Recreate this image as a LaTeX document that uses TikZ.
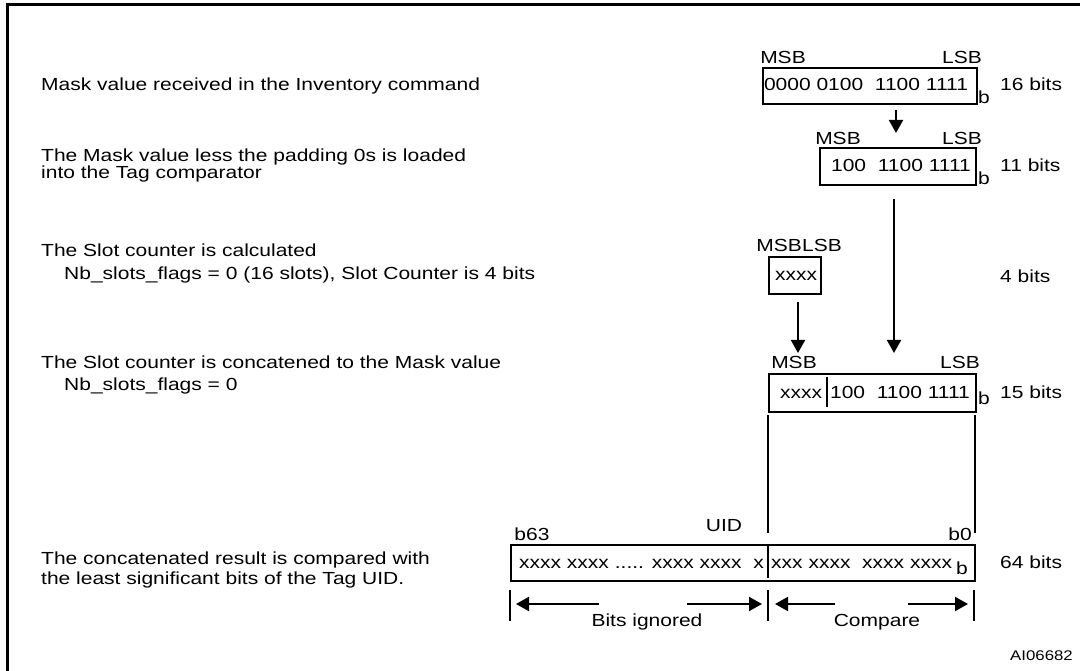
\documentclass[tikz,border=0pt]{standalone}
\usepackage{fontspec}
\setmainfont{Liberation Sans}[FakeStretch=1.2]
\usetikzlibrary{arrows.meta}
\tikzset{
 txt/.style={anchor=base west, inner sep=0pt, font=\fontsize{17.5}{20}\selectfont},
 lbl/.style={anchor=base, inner sep=0pt, font=\fontsize{17.5}{20}\selectfont},
 bitbox/.style={draw, line width=2pt, anchor=north west, inner sep=0pt},
 conn/.style={line width=2pt},
 arr/.style={line width=2pt, -{Triangle[length=13pt,width=14pt]}},
 frameline/.style={line width=3pt},
}
\begin{document}
\begin{tikzpicture}[x=1pt,y=-1pt]
\useasboundingbox (0,0) rectangle (1080,671);
\clip (0,0) rectangle (1080,671);
\draw[frameline] (7,5) rectangle (1100,700);

% left descriptions
\node[txt] (d1) at (41,91) {Mask value received in the Inventory command};
\node[txt] (d2a) at (41,162) {The Mask value less the padding 0s is loaded};
\node[txt] (d2b) at (41,179) {into the Tag comparator};
\node[txt] (d3a) at (41,257) {The Slot counter is calculated};
\node[txt] (d3b) at (64,280) {Nb\_slots\_flags = 0 (16 slots), Slot Counter is 4 bits};
\node[txt] (d4a) at (41,368) {The Slot counter is concatened to the Mask value};
\node[txt] (d4b) at (64,390) {Nb\_slots\_flags = 0};
\node[txt] (d5a) at (41,564) {The concatenated result is compared with};
\node[txt] (d5b) at (41,584) {the least significant bits of the Tag UID.};

% box 1 (16 bits)
\node[bitbox, minimum width=214pt, minimum height=36pt] (m16) at (762,67) {};
\node[lbl] (m16t) at (866,91) {0000 0100\ \ 1100 1111};
\node[lbl] (m16msb) at (783,64) {MSB};
\node[lbl] (m16lsb) at (962,64) {LSB};
\node[lbl] (m16b) at (984,104) {b};
\node[txt] (m16n) at (1000,91) {16 bits};

% box 2 (11 bits)
\node[bitbox, minimum width=156pt, minimum height=37pt] (m11) at (819,147) {};
\node[lbl] (m11t) at (901,172) {100\ \ 1100 1111};
\node[lbl] (m11msb) at (838,145) {MSB};
\node[lbl] (m11lsb) at (962,145) {LSB};
\node[lbl] (m11b) at (984,185) {b};
\node[txt] (m11n) at (1000,172) {11 bits};

% slot counter box (4 bits)
\node[bitbox, minimum width=52pt, minimum height=37pt] (sc) at (768,256) {};
\node[lbl] (sct) at (796,281) {xxxx};
\node[lbl, anchor=base east] (scmsb) at (802,252) {MSB};
\node[lbl, anchor=base west] (sclsb) at (802,252) {LSB};
\node[txt] (scn) at (1000,283) {4 bits};

% box 15 bits
\node[bitbox, minimum width=207pt, minimum height=38pt] (m15) at (768,373) {};
\node[lbl] (m15x) at (801,398) {xxxx};
\node[lbl] (m15t) at (900,398) {100\ \ 1100 1111};
\node[lbl] (m15msb) at (794,369) {MSB};
\node[lbl] (m15lsb) at (960,369) {LSB};
\node[lbl] (m15b) at (984,404) {b};
\node[txt] (m15n) at (1000,398) {15 bits};
\draw[conn] (827,377) -- (827,407);

% UID box 64 bits
\node[bitbox, minimum width=464pt, minimum height=36pt] (uid) at (510,544) {};
\node[lbl, anchor=base east] (uidl) at (764,568) {xxxx xxxx ..... xxxx xxxx\ \ x};
\node[lbl, anchor=base west] (uidr) at (771,568) {xxx xxxx\ \ xxxx xxxx};
\node[lbl] (uidb) at (962,574) {b};
\node[lbl] (b63) at (532,540) {b63};
\node[lbl] (uidlab) at (724,531) {UID};
\node[lbl] (b0) at (960,540) {b0};
\node[txt] (uidn) at (1000,568) {64 bits};
\draw[conn] (768,544) -- (768,578);

% connectors
\coordinate (a1s) at (896,110); \coordinate (a1e) at (896,133);
\draw[arr] (a1s) -- (a1e);
\coordinate (a2s) at (894,199); \coordinate (a2e) at (894,353);
\draw[arr] (a2s) -- (a2e);
\coordinate (a3s) at (798,302); \coordinate (a3e) at (798,353);
\draw[arr] (a3s) -- (a3e);
\coordinate (l1s) at (768,415); \coordinate (l1e) at (768,533);
\draw[conn] (l1s) -- (l1e);
\coordinate (l2s) at (975,415); \coordinate (l2e) at (975,533);
\draw[conn] (l2s) -- (l2e);

% bottom range markers
\draw[conn] (510,590) -- (510,621);
\draw[conn] (768,590) -- (768,621);
\draw[conn] (974,590) -- (974,621);
\draw[arr] (599,604) -- (516,604);
\draw[arr] (687,604) -- (762,604);
\draw[arr] (835,604) -- (775,604);
\draw[arr] (908,604) -- (968,604);
\node[lbl] (ign) at (647,626) {Bits ignored};
\node[lbl] (cmp) at (877,626) {Compare};

\node[anchor=base west, inner sep=0pt, font=\fontsize{14}{16}\selectfont] (ai) at (1010,660) {AI06682};
\end{tikzpicture}
\end{document}
